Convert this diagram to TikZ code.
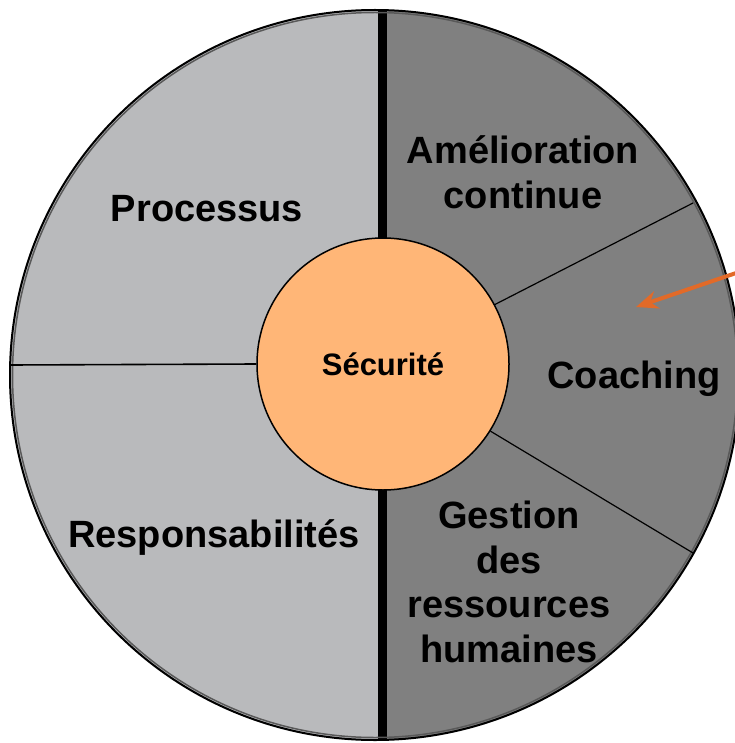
\documentclass[tikz,border=0pt]{standalone}
\usepackage{fontspec}
\setmainfont{Liberation Sans}
\usetikzlibrary{arrows.meta}
\definecolor{lightpart}{RGB}{185,186,188}
\definecolor{darkpart}{RGB}{128,128,128}
\definecolor{corefill}{RGB}{255,182,119}
\definecolor{arroworange}{RGB}{226,106,40}

\begin{document}
\begin{tikzpicture}[x=1pt, y=-1pt,
	part/.style={font=\fontsize{38}{44.5}\selectfont\bfseries, align=center, inner sep=0pt, anchor=base}]
		\useasboundingbox (0,0) rectangle (734,743);
		
		% two halves
		\begin{scope}
			\clip (375,375) circle[radius=365pt];
			\fill[lightpart] (0,0) rectangle (382,750);
			\fill[darkpart] (382,0) rectangle (750,750);
			\fill[black] (378,0) rectangle (387,750);
		\end{scope}
		
		% rim
		\draw[gray!70!black, line width=1.5pt] (375,375) circle[radius=362.5pt];
		\draw[line width=2pt] (375,375) circle[radius=365pt];
		
		% centre
		\node[circle, draw, line width=1.5pt, fill=corefill, minimum size=252pt, inner sep=0pt,
		      font=\fontsize{31}{32}\selectfont\bfseries] (core) at (383,364) {Sécurité};
		
		% dividers
		\draw[line width=1.6pt] (core.180) -- (10,365);
		\draw[line width=1.2pt] (core.28) -- (693,203);
		\draw[line width=1.2pt] (core.-32) -- (693,553);
		
		% labels (base = last line)
		\node[part] (proc) at (207,222) {Processus};
		\node[part] (resp) at (214,547) {Responsabilités};
		\node[part] (amel) at (523,208) {Amélioration\\continue};
		\node[part] (coach) at (634,388) {Coaching};
		\node[part] (grh) at (509,662) {Gestion\\des\\ressources\\humaines};
		
		% pointer
		\coordinate (tail) at (742,271);
		\draw[arroworange, line width=4pt, -{Stealth[length=22pt, width=18pt]}] (tail) -- (636,307);
	\end{tikzpicture}
\end{document}
